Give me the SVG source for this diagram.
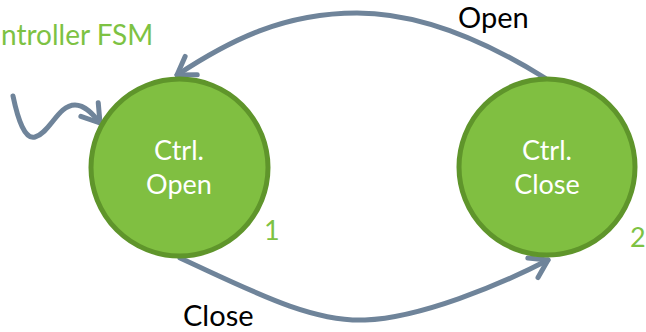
<svg xmlns="http://www.w3.org/2000/svg" width="646" height="332" viewBox="0 0 646 332">
  <style>
    .state { fill: #80bf41; stroke: #5f952b; stroke-width: 5; }
    .stext { font-family: Lato, "Liberation Sans", sans-serif; font-size: 27px; fill: #ffffff; text-anchor: middle; }
    .num { font-family: Lato, "Liberation Sans", sans-serif; font-size: 27px; fill: #7dc243; }
    .lbl { font-family: Lato, "Liberation Sans", sans-serif; font-size: 29px; fill: #000000; }
    .title { font-family: Lato, "Liberation Sans", sans-serif; font-size: 28px; fill: #7dc243; }
    .edge { fill: none; stroke: #6f849a; stroke-width: 5; stroke-linecap: round; }
  </style>
  <defs>
    <marker id="arrow" markerUnits="userSpaceOnUse" markerWidth="40" markerHeight="40" refX="0" refY="0" viewBox="-25 -20 40 40" orient="auto" overflow="visible">
      <path d="M-17,-11 L0,0 L-17,11" fill="none" stroke="#6f849a" stroke-width="5" stroke-linecap="round" stroke-linejoin="round"/>
    </marker>
  </defs>
  <text class="title" x="1" y="45">ntroller FSM</text>
  <g id="connectors">
    <path class="edge" d="M13,96 C18,120 25,140 35,137 C50,133 58,105 75,105 C85,105 93,114 100,123" marker-end="url(#arrow)"/>
    <path class="edge" d="M545,78 C500,50 430,13 357,13 S230,40 177,75" marker-end="url(#arrow)"/>
    <path class="edge" d="M180,258 C250,290 310,322 365,320 S500,285 548,260" marker-end="url(#arrow)"/>
    <text class="lbl" x="458" y="28">Open</text>
    <text class="lbl" x="183" y="326">Close</text>
  </g>
  <g id="ctrl-open">
    <circle class="state" cx="179.5" cy="167.5" r="88.5"/>
    <text class="stext" x="179" y="160">Ctrl.</text>
    <text class="stext" x="179" y="194">Open</text>
    <text class="num" x="264" y="240">1</text>
  </g>
  <g id="ctrl-close">
    <circle class="state" cx="547" cy="167" r="88"/>
    <text class="stext" x="547" y="160">Ctrl.</text>
    <text class="stext" x="547" y="194">Close</text>
    <text class="num" x="630" y="247">2</text>
  </g>
</svg>
